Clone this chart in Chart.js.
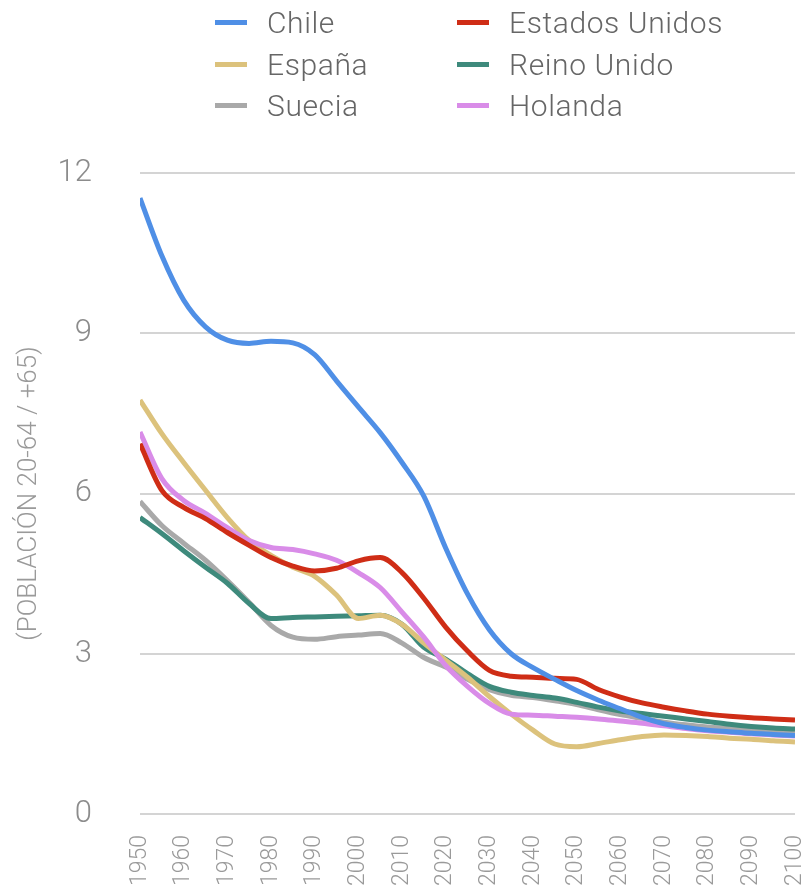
<!DOCTYPE html>
<html><head><meta charset="utf-8">
<script src="https://cdn.jsdelivr.net/npm/chart.js@4/dist/chart.umd.min.js"></script>
<style>
html,body{margin:0;padding:0;background:#fff;}
#wrap{position:relative;width:810px;height:891px;overflow:hidden;}
canvas{position:absolute;left:0;top:0;}
#legend{position:absolute;left:0;top:0;width:810px;height:130px;font-family:Roboto,'Liberation Sans',sans-serif;font-weight:300;color:#666;font-size:30px;letter-spacing:0.6px;}
.item{position:absolute;display:flex;align-items:center;height:40px;white-space:nowrap;}
.mark{width:32px;height:5px;margin-right:20px;flex:none;}
</style></head>
<body><div id="wrap"><canvas id="c" width="810" height="891"></canvas><div id="legend"></div></div>
<script>
const years = [1950,1955,1960,1965,1970,1975,1980,1985,1990,1995,2000,2005,2010,2015,2020,2025,2030,2035,2040,2045,2050,2055,2060,2065,2070,2075,2080,2085,2090,2095,2100];
const chile = [11.53,10.45,9.62,9.12,8.87,8.81,8.85,8.82,8.6,8.11,7.62,7.14,6.58,5.95,4.98,4.12,3.45,3.0,2.74,2.52,2.31,2.13,1.97,1.81,1.69,1.62,1.57,1.54,1.51,1.49,1.47];
const estadosUnidos = [6.93,6.06,5.74,5.53,5.27,5.03,4.8,4.64,4.55,4.6,4.74,4.8,4.52,4.04,3.5,3.05,2.69,2.58,2.56,2.54,2.52,2.33,2.19,2.08,2.0,1.93,1.87,1.83,1.8,1.78,1.76];
const espana = [7.75,7.12,6.58,6.06,5.55,5.12,4.84,4.62,4.45,4.1,3.66,3.72,3.55,3.2,2.88,2.56,2.2,1.87,1.57,1.31,1.26,1.32,1.39,1.45,1.48,1.47,1.45,1.42,1.4,1.37,1.35];
const reinoUnido = [5.55,5.25,4.93,4.62,4.32,3.94,3.66,3.68,3.69,3.7,3.71,3.72,3.55,3.12,2.9,2.63,2.39,2.28,2.22,2.17,2.09,2.0,1.93,1.88,1.83,1.78,1.73,1.68,1.64,1.61,1.59];
const suecia = [5.85,5.4,5.07,4.75,4.37,3.96,3.53,3.31,3.27,3.32,3.35,3.38,3.2,2.93,2.75,2.52,2.33,2.22,2.18,2.12,2.05,1.95,1.86,1.79,1.72,1.67,1.63,1.6,1.57,1.55,1.53];
const holanda = [7.15,6.28,5.87,5.63,5.36,5.12,4.99,4.95,4.87,4.75,4.52,4.24,3.78,3.31,2.78,2.39,2.07,1.87,1.85,1.83,1.81,1.78,1.74,1.7,1.65,1.6,1.56,1.53,1.5,1.48,1.46];

const seriesNames = ['Chile','Estados Unidos','Holanda','España','Reino Unido','Suecia'];
const seriesValues = [chile, estadosUnidos, holanda, espana, reinoUnido, suecia];
const seriesColors = ['#4f8fe6','#cf2d16','#d98ce8','#dcc27c','#3e8a7c','#a9a9a9'];
const legendOrder = ['Chile','Estados Unidos','España','Reino Unido','Suecia','Holanda'];
const yTicks = [0,3,6,9,12];
const yTitle = '(POBLACIÓN 20-64 / +65)';

const datasets = seriesNames.map((name,i)=>({
  label:name,
  data: years.map((yr,j)=>({x:yr,y:seriesValues[i][j]})),
  borderColor:seriesColors[i],
  backgroundColor:seriesColors[i],
  borderWidth:5,
  pointRadius:0,
  fill:false,
  cubicInterpolationMode:'monotone',
  borderCapStyle:'butt'
}));

const chart = new Chart(document.getElementById('c').getContext('2d'), {
  type:'line',
  data:{datasets},
  options:{
    responsive:false,
    animation:false,
    layout:{padding:{top:173,right:15,left:0,bottom:0}},
    plugins:{legend:{display:false},tooltip:{enabled:false}},
    scales:{
      x:{
        type:'linear', min:years[0], max:years[years.length-1],
        afterFit(s){ s.height = 77; s.paddingLeft = 0; s.paddingRight = 0; },
        grid:{display:false}, border:{display:false},
        ticks:{stepSize:10, autoSkip:false, maxRotation:90, minRotation:90, padding:13,
          color:'#9a9a9a', font:{family:'Roboto', weight:300, size:23},
          callback:(v)=>String(v)}
      },
      y:{
        min:yTicks[0], max:yTicks[yTicks.length-1],
        afterFit(s){ s.width = 140; },
        afterBuildTicks(s){ s.ticks = yTicks.map(v=>({value:v})); },
        grid:{color:'#d4d4d4', lineWidth:2, drawTicks:false},
        border:{display:false},
        ticks:{padding:48, color:'#8c8c8c', font:{family:'Roboto', weight:300, size:31}},
        title:{display:true, text:yTitle, color:'#9a9a9a',
          font:{family:'Roboto', weight:300, size:26}, padding:{top:14,bottom:0}}
      }
    }
  }
});

// HTML legend built from the chart datasets
const legend = document.getElementById('legend');
const colX = [215, 457];
const rowY = [22, 64, 105];
legendOrder.forEach((name,k)=>{
  const ds = chart.data.datasets.find(d=>d.label===name);
  const item = document.createElement('div');
  item.className='item';
  item.style.left = colX[k%2]+'px';
  item.style.top = (rowY[Math.floor(k/2)]-20)+'px';
  const m = document.createElement('span'); m.className='mark'; m.style.background = ds.borderColor;
  const t = document.createElement('span'); t.textContent = name;
  item.appendChild(m); item.appendChild(t);
  legend.appendChild(item);
});
</script>
</body></html>
